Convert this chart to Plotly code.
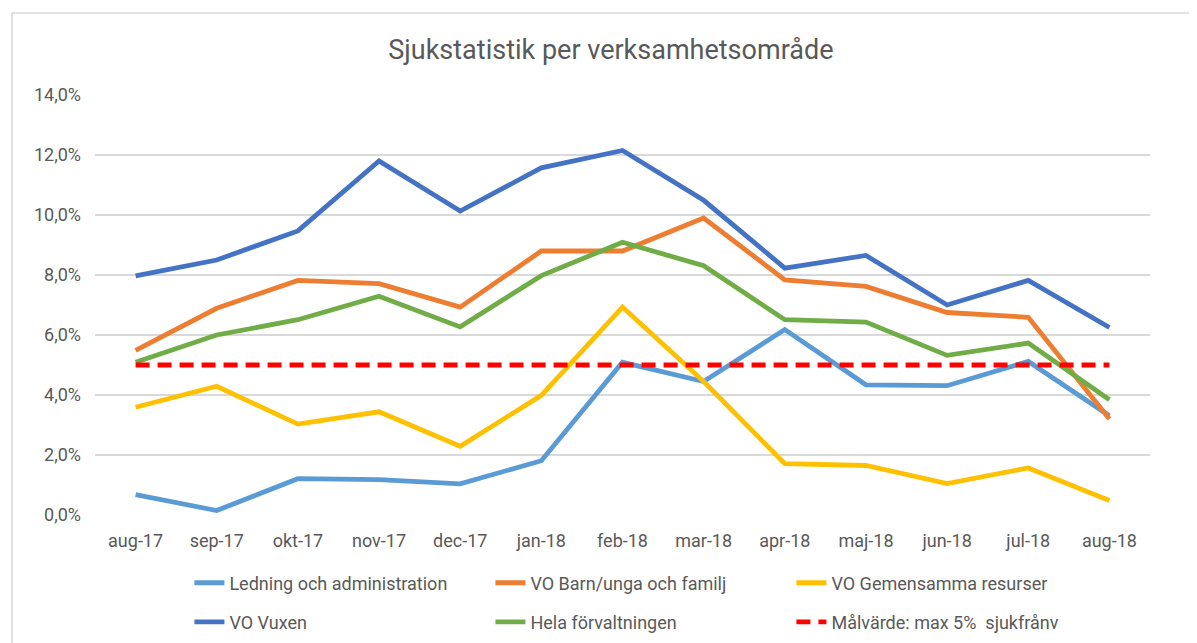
import plotly.graph_objects as go

months = ["aug-17", "sep-17", "okt-17", "nov-17", "dec-17", "jan-18", "feb-18",
          "mar-18", "apr-18", "maj-18", "jun-18", "jul-18", "aug-18"]

ledning = [0.68, 0.15, 1.21, 1.18, 1.04, 1.81, 5.09, 4.45, 6.18, 4.34, 4.31, 5.12, 3.31]
barn = [5.49, 6.89, 7.82, 7.71, 6.93, 8.80, 8.80, 9.90, 7.84, 7.62, 6.75, 6.59, 3.20]
gemensamma = [3.59, 4.29, 3.03, 3.44, 2.29, 3.99, 6.93, 4.45, 1.71, 1.65, 1.05, 1.57, 0.48]
vuxen = [7.97, 8.50, 9.47, 11.80, 10.13, 11.57, 12.15, 10.49, 8.23, 8.65, 7.00, 7.82, 6.25]
hela = [5.09, 6.00, 6.51, 7.29, 6.27, 7.98, 9.09, 8.31, 6.51, 6.43, 5.32, 5.73, 3.84]
malvarde = [5.0] * 13

names = ["Ledning och administration", "VO Barn/unga och familj", "VO Gemensamma resurser",
         "VO Vuxen", "Hela förvaltningen", "Målvärde: max 5%  sjukfrånv"]
colors = ["#5B9BD5", "#ED7D31", "#FFC000", "#4472C4", "#70AD47", "#FF0000"]
series = [ledning, barn, gemensamma, vuxen, hela, malvarde]
legends = ["legend", "legend", "legend", "legend2", "legend2", "legend2"]

FONT = "Liberation Sans Narrow, Roboto, sans-serif"
GRAY = "#595959"

fig = go.Figure()
for i, (n, c, s, lg) in enumerate(zip(names, colors, series, legends)):
    dash = "14px,8px" if i == 5 else "solid"
    fig.add_trace(go.Scatter(x=months, y=s, name=n, mode="lines",
                             line=dict(color=c, width=4.8, dash=dash),
                             legend=lg))

legend_common = dict(orientation="h", xanchor="left", yanchor="middle",
                     entrywidth=256, entrywidthmode="pixels",
                     font=dict(family=FONT, size=18, color=GRAY),
                     bgcolor="rgba(0,0,0,0)", traceorder="normal")

fig.update_layout(
    width=1197, height=643,
    margin=dict(l=87, r=55, t=87, b=136, autoexpand=False),
    paper_bgcolor="white", plot_bgcolor="white",
    separators=", ",
    font=dict(family=FONT, color=GRAY),
    title=dict(text="Sjukstatistik per verksamhetsområde", x=0.489, xref="paper",
               xanchor="center", y=0.935, yanchor="middle",
               font=dict(family=FONT, size=27, color=GRAY)),
    xaxis=dict(type="category", range=[-0.5, 12.5], showgrid=False, showline=False,
               ticks="", tickfont=dict(family=FONT, size=18, color=GRAY),
               ticklabelstandoff=13),
    yaxis=dict(range=[0, 14], dtick=2, tick0=0, tickformat=".1f", ticksuffix="%",
               showgrid=True, gridcolor="#D9D9D9", gridwidth=1.5, zeroline=False,
               showline=False, ticks="", tickfont=dict(family=FONT, size=18, color=GRAY),
               ticklabelstandoff=13),
    legend=dict(x=0.0895, y=-0.162, **legend_common),
    legend2=dict(x=0.0895, y=-0.255, **legend_common),
    shapes=[dict(type="rect", xref="paper", yref="paper", x0=-0.0787, x1=1.2,
                 y0=-0.4, y1=1.195, line=dict(color="#D9D9D9", width=1.5),
                 fillcolor="rgba(0,0,0,0)", layer="below")],
    showlegend=True,
)

fig.write_html("out.html")
